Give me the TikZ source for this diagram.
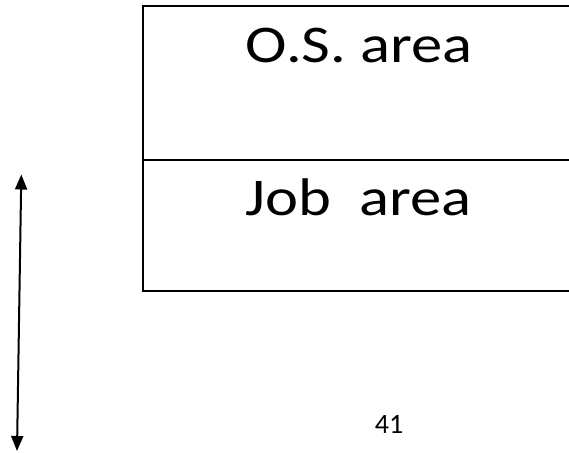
\documentclass[tikz,border=0pt]{standalone}
\usepackage{fontspec}
\setmainfont{Carlito}
\newfontfamily\widefont[FakeStretch=1.18]{Carlito}
\usetikzlibrary{arrows.meta}
\tikzset{
  boxline/.style={line width=2pt, line cap=butt},
  bigtext/.style={anchor=base, inner sep=0pt, font=\widefont\fontsize{53}{60}\selectfont},
  pagenum/.style={anchor=base, inner sep=0pt, font=\fontsize{28}{32}\selectfont},
  dblarrow/.style={line width=2pt, {Triangle[width=12pt,length=15pt]}-{Triangle[width=12pt,length=15pt]}}
}
\begin{document}
\begin{tikzpicture}[x=1pt,y=-1pt]
\useasboundingbox (0,0) rectangle (569,452);
\clip (0,0) rectangle (569,452);
% box (open on the right, cut by the page edge)
\draw[boxline] (571,5.7) -- (142.7,5.7) -- (142.7,291) -- (571,291);
\draw[boxline] (142.7,159.5) -- (571,159.5);
% texts
\node[bigtext] (os) at (359,63) {O.S. area};
\node[bigtext] (job) at (358.5,215) {Job\ \ area};
\node[pagenum] (num) at (389,433) {41};
% arrow
\coordinate (atop) at (21.3,174.5);
\coordinate (abot) at (17,451);
\draw[dblarrow] (atop) -- (abot);
\end{tikzpicture}
\end{document}
